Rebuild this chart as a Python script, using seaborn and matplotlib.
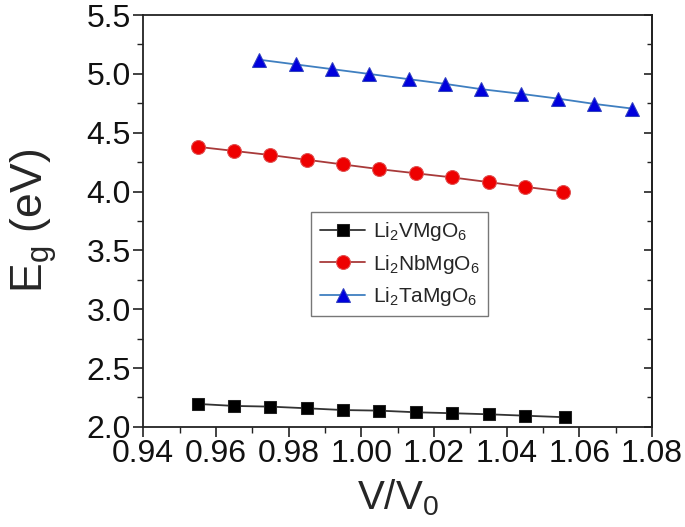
import numpy as np
import pandas as pd
import matplotlib
matplotlib.use("Agg")
import matplotlib.pyplot as plt
import seaborn as sns
from matplotlib.ticker import MultipleLocator, FormatStrFormatter

sns.set_style("ticks")
plt.rcParams['font.family'] = ['Liberation Sans', 'DejaVu Sans']
plt.rcParams['mathtext.fontset'] = 'custom'
plt.rcParams['mathtext.rm'] = 'Liberation Sans'
plt.rcParams['mathtext.it'] = 'Liberation Sans'

# V/V0 and band gap values
x_v = [0.955, 0.965, 0.975, 0.985, 0.995, 1.005, 1.015, 1.025, 1.035, 1.045, 1.056]
eg_v = [2.195, 2.178, 2.172, 2.158, 2.143, 2.138, 2.124, 2.116, 2.107, 2.095, 2.082]

x_nb = [0.955, 0.965, 0.975, 0.985, 0.995, 1.005, 1.015, 1.025, 1.035, 1.045, 1.0555]
eg_nb = [4.38, 4.345, 4.31, 4.27, 4.23, 4.19, 4.155, 4.12, 4.08, 4.04, 4.00]

x_ta = [0.972, 0.982, 0.992, 1.002, 1.013, 1.023, 1.033, 1.044, 1.054, 1.064, 1.0745]
eg_ta = [5.12, 5.08, 5.04, 5.00, 4.955, 4.915, 4.87, 4.83, 4.79, 4.745, 4.705]

labels = [r'Li$_2$VMgO$_6$', r'Li$_2$NbMgO$_6$', r'Li$_2$TaMgO$_6$']

fig = plt.figure(figsize=(6.85, 5.27), dpi=100)
ax = fig.add_axes([0.209, 0.19, 0.743, 0.7815])

sns.lineplot(x=x_v, y=eg_v, ax=ax, color='#333333', lw=1.3, marker='s',
             markersize=8.5, markerfacecolor='black', markeredgecolor='#222222',
             label=labels[0])
sns.lineplot(x=x_nb, y=eg_nb, ax=ax, color='#a83a3a', lw=1.3, marker='o',
             markersize=10, markerfacecolor='#ee0000', markeredgecolor='#e05050',
             label=labels[1])
sns.lineplot(x=x_ta, y=eg_ta, ax=ax, color='#3f7fc0', lw=1.3, marker='^',
             markersize=10, markerfacecolor='#0000dd', markeredgecolor='#3040c0',
             label=labels[2])

ax.set_xlim(0.94, 1.08)
ax.set_ylim(2.0, 5.5)
ax.xaxis.set_major_locator(MultipleLocator(0.02))
ax.xaxis.set_minor_locator(MultipleLocator(0.01))
ax.yaxis.set_major_locator(MultipleLocator(0.5))
ax.yaxis.set_minor_locator(MultipleLocator(0.25))
ax.xaxis.set_major_formatter(FormatStrFormatter('%.2f'))
ax.yaxis.set_major_formatter(FormatStrFormatter('%.1f'))

for s in ax.spines.values():
    s.set_linewidth(1.3)
    s.set_color('#222222')
ax.tick_params(axis='both', which='major', direction='out', length=7, width=1.2,
               labelsize=23, colors='#222222', labelcolor='#111111', pad=2)
ax.tick_params(axis='both', which='minor', direction='out', length=4, width=1.0,
               colors='#222222')

# right side ticks point inward, no labels
sec = ax.secondary_yaxis('right')
sec.yaxis.set_major_locator(MultipleLocator(0.5))
sec.yaxis.set_minor_locator(MultipleLocator(0.25))
sec.tick_params(which='major', direction='in', length=6, width=1.2, colors='#222222',
                labelright=False)
sec.tick_params(which='minor', direction='in', length=3.5, width=1.0, colors='#222222')
sec.spines['right'].set_linewidth(1.3)

ax.set_xlabel(r'V/V$_0$', fontsize=29, labelpad=6)
ax.set_ylabel(r'E$_\mathrm{g}$ (eV)', fontsize=32, labelpad=20)

leg = ax.legend(loc='upper left', bbox_to_anchor=(0.318, 0.537), fontsize=15,
                frameon=True, fancybox=False, edgecolor='#555555',
                handlelength=2.2, borderpad=0.4, labelspacing=0.45,
                handletextpad=0.35, borderaxespad=0.3)
leg.get_frame().set_linewidth(1.0)

fig.savefig('out.png', dpi=100)
